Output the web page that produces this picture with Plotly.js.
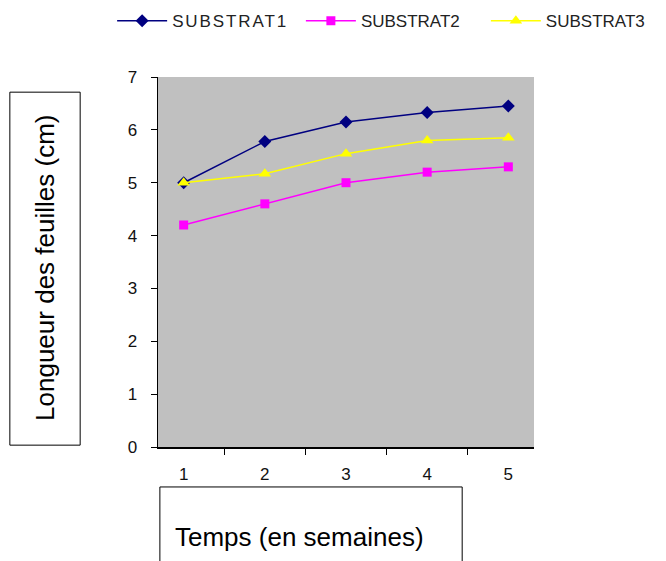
<!DOCTYPE html>
<html><head><meta charset="utf-8">
<script src="https://cdn.plot.ly/plotly-3.0.1.min.js"></script>
<style>body{margin:0;background:#fff}#c{width:666px;height:561px}
.legendtext{letter-spacing:1.9px}</style>
</head><body><div id="c"></div>
<script>
const weeks = ['1','2','3','4','5'];
const substrat1 = [5.0, 5.78, 6.15, 6.33, 6.45];
const substrat2 = [4.2, 4.6, 5.0, 5.2, 5.3];
const substrat3 = [5.0, 5.17, 5.55, 5.8, 5.85];
const seriesNames = ['SUBSTRAT1','SUBSTRAT2','SUBSTRAT3'];
const yTitle = 'Longueur des feuilles (cm)';
const xTitle = 'Temps (en semaines)';

const traces = [
  {x: weeks, y: substrat1, name: seriesNames[0], legend:'legend', mode:'lines+markers', line:{color:'#000080', width:1.5}, marker:{symbol:'diamond', size:10, color:'#000080'}},
  {x: weeks, y: substrat2, name: seriesNames[1], legend:'legend2', mode:'lines+markers', line:{color:'#ff00ff', width:1.5}, marker:{symbol:'square', size:9, color:'#ff00ff'}},
  {x: weeks, y: substrat3, name: seriesNames[2], legend:'legend3', mode:'lines+markers', line:{color:'#ffff00', width:1.5}, marker:{symbol:'triangle-up', size:11, color:'#ffff00'}}
];
const legBase = {orientation:'h', xanchor:'left', y:1.151, yanchor:'middle', font:{size:17, color:'#222'}, itemwidth:50, bgcolor:'rgba(0,0,0,0)'};
const layout = {
  width: 666, height: 561,
  margin: {l:158, r:132, t:77, b:114, pad:0, autoexpand:false},
  paper_bgcolor: '#ffffff',
  plot_bgcolor: '#c0c0c0',
  font: {family: 'Arial, Liberation Sans, sans-serif', color: '#000', size: 12},
  showlegend: true,
  legend: Object.assign({}, legBase, {x:-0.122}),
  legend2: Object.assign({}, legBase, {x:0.380}),
  legend3: Object.assign({}, legBase, {x:0.872}),
  xaxis: {type:'category', tickson:'boundaries', ticks:'outside', ticklen:6, tickcolor:'#000', showline:true, linecolor:'#000', linewidth:1.5, showgrid:false, zeroline:false, mirror:false, tickfont:{size:17, color:'#111'}, ticklabelstandoff:11},
  yaxis: {range:[0,7], dtick:1, ticks:'outside', ticklen:6, tickcolor:'#000', showline:true, linecolor:'#000', linewidth:1.5, showgrid:false, zeroline:false, tickfont:{size:17, color:'#111'}, ticklabelstandoff:10},
  shapes: [
    {type:'rect', xref:'paper', yref:'paper', x0:-0.394, x1:-0.207, y0:0.005, y1:0.959, line:{color:'#000', width:1}, fillcolor:'rgba(0,0,0,0)'},
    {type:'rect', xref:'paper', yref:'paper', x0:0.005, x1:0.809, y0:-0.31, y1:-0.108, line:{color:'#000', width:1}, fillcolor:'rgba(0,0,0,0)'}
  ],
  annotations: [
    {text: yTitle, xref:'paper', yref:'paper', x:-0.3005, y:0.484, showarrow:false, textangle:-90, font:{size:26}, xanchor:'center', yanchor:'middle'},
    {text: xTitle, xref:'paper', yref:'paper', x:0.377, y:-0.243, showarrow:false, font:{size:26}, xanchor:'center', yanchor:'middle'}
  ]
};
Plotly.newPlot('c', traces, layout, {displayModeBar:false, staticPlot:true});
</script></body></html>
